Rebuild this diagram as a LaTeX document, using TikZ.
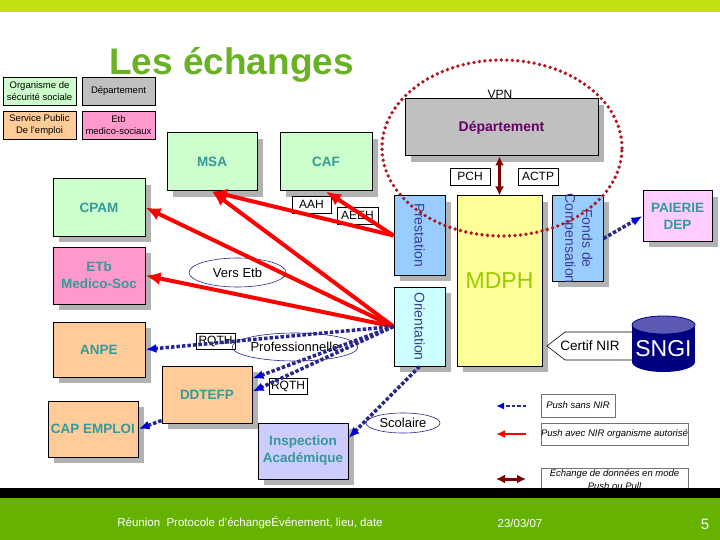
\documentclass[tikz,border=0pt]{standalone}
\usepackage{fontspec}
\setmainfont{Liberation Sans}
\usetikzlibrary{shadows,arrows.meta,shapes.geometric}
\definecolor{topbar}{RGB}{196,224,20}
\definecolor{titlegreen}{RGB}{104,178,36}
\definecolor{footgreen}{RGB}{102,178,0}
\definecolor{secu}{RGB}{204,255,204}
\definecolor{depgrey}{RGB}{192,192,192}
\definecolor{emploi}{RGB}{255,204,153}
\definecolor{etbpink}{RGB}{255,153,204}
\definecolor{presta}{RGB}{153,204,255}
\definecolor{orient}{RGB}{204,255,255}
\definecolor{mdph}{RGB}{255,255,153}
\definecolor{paierie}{RGB}{255,204,255}
\definecolor{inspec}{RGB}{204,204,255}
\definecolor{labteal}{RGB}{51,153,153}
\definecolor{navytext}{RGB}{60,60,150}
\definecolor{deppurple}{RGB}{102,0,102}
\definecolor{mdphgreen}{RGB}{153,204,0}
\definecolor{shade}{RGB}{178,178,178}
\definecolor{arrowred}{RGB}{255,0,0}
\definecolor{navydot}{RGB}{40,40,140}
\definecolor{arrowblue}{RGB}{0,0,220}
\definecolor{pullred}{RGB}{128,0,0}
\definecolor{ringred}{RGB}{175,25,35}
\definecolor{sngiblue}{RGB}{0,0,128}
\definecolor{sngitop}{RGB}{90,90,180}
\newcommand\fsz[2]{\fontsize{#1}{#2}\selectfont}
\begin{document}
\begin{tikzpicture}[x=1pt,y=-1pt,
  org/.style={draw, line width=1pt, align=center, inner sep=1pt, text=labteal,
    font=\bfseries\fsz{13.5}{17},
    general shadow={fill=shade, shadow xshift=6pt, shadow yshift=-6pt}},
  legbox/.style={draw, line width=0.8pt, align=center, inner sep=0pt, font=\fsz{9.5}{12}},
  tag/.style={draw, fill=white, line width=0.6pt, inner sep=0pt, font=\fsz{12}{14}},
  oval/.style={ellipse, draw=navydot, line width=0.6pt, inner sep=0pt, font=\fsz{13}{15}},
  vtext/.style={rotate=-90, text=navytext, align=center, font=\fsz{14}{16}},
  note/.style={draw=black!55, line width=0.8pt, align=center, inner sep=0pt,
    font=\itshape\fsz{9.5}{13}},
  pushred/.style={draw=arrowred, line width=4pt, -{Latex[length=15pt,width=13pt]}},
  pushblue/.style={draw=navydot, line width=3.5pt, dash pattern=on 3.5pt off 2pt,
    -{Latex[length=11pt,width=9pt,color=arrowblue]}},
  pull/.style={draw=pullred, line width=3pt,
    {Latex[length=9pt,width=9pt]}-{Latex[length=9pt,width=9pt]}}]
\useasboundingbox (0,0) rectangle (720,540);
\fill[white] (0,0) rectangle (720,540);
\fill[topbar] (0,0) rectangle (720,12);
\node[anchor=base, text=titlegreen, font=\bfseries\fsz{37}{40}] (title) at (231.5,75) {Les échanges};
\node[legbox, fill=secu, minimum width=73, minimum height=28] (lsecu) at (39.5,91) {Organisme de\\sécurité sociale};
\node[legbox, fill=depgrey, minimum width=73, minimum height=28] (ldep) at (118.5,91) {Département};
\node[legbox, fill=emploi, minimum width=73, minimum height=28] (lemploi) at (39.5,125) {Service Public\\De l'emploi};
\node[legbox, fill=etbpink, minimum width=73, minimum height=28] (letb) at (118.5,125) {Etb\\medico-sociaux};
\node[font=\fsz{12}{14}] (vpn) at (500,94) {VPN};
\node[org, fill=depgrey, text=deppurple, font=\bfseries\fsz{14}{16}, minimum width=193, minimum height=57] (dep) at (501.5,127.5) {Département};
\node[org, fill=secu, minimum width=90, minimum height=58] (msa) at (212,162) {MSA};
\node[org, fill=secu, minimum width=92, minimum height=58] (caf) at (326,162) {CAF};
\node[org, fill=secu, minimum width=92, minimum height=57] (cpam) at (99,207.5) {CPAM};
\node[org, fill=etbpink, minimum width=92, minimum height=57] (etb) at (99,275.5) {ETb\\Medico-Soc};
\node[org, fill=emploi, minimum width=92, minimum height=55] (anpe) at (99,349.5) {ANPE};
\node[org, fill=emploi, minimum width=90, minimum height=57] (ddtefp) at (207,394.5) {DDTEFP};
\node[org, fill=emploi, minimum width=90, minimum height=56] (capemploi) at (93,429) {CAP EMPLOI};
\node[org, fill=inspec, minimum width=90, minimum height=56] (inspection) at (303,451) {Inspection\\Académique};
\node[org, fill=presta, minimum width=51, minimum height=79] (presta) at (419.5,235.5) {};
\node[vtext] (prestatext) at (presta) {Prestation};
\node[org, fill=orient, minimum width=51, minimum height=79] (orient) at (419.5,326.5) {};
\node[vtext] (orienttext) at (orient) {Orientation};
\node[org, fill=mdph, text=mdphgreen, font=\fsz{23}{26}, minimum width=85, minimum height=170] (mdph) at (499.5,281) {MDPH};
\node[org, fill=presta, minimum width=51, minimum height=85] (fonds) at (577.5,238.5) {};
\node[vtext, font=\fsz{14}{17}] (fondstext) at (fonds) {Fonds de\\Compensation};
\node[org, fill=paierie, minimum width=69, minimum height=50] (paierie) at (677.5,216) {PAIERIE\\DEP};
\node[tag, minimum width=40, minimum height=17] (pch) at (470,176.5) {PCH};
\node[tag, minimum width=40, minimum height=17] (actp) at (538,176.5) {ACTP};
\node[tag, minimum width=39, minimum height=17] (aah) at (311.5,204.5) {AAH};
\node[tag, minimum width=41, minimum height=17] (aeeh) at (357.5,215.5) {AEEH};
\node[tag, minimum width=39, minimum height=16] (rqtha) at (215.5,341) {RQTH};
\node[tag, minimum width=38, minimum height=16] (rqthb) at (288,386) {RQTH};
\node[oval, minimum width=97, minimum height=29] (versetb) at (237.5,272.5) {Vers Etb};
\node[oval, minimum width=96, minimum height=28] (pro) at (295,347) {Professionnelle};
\node[oval, fill=white, minimum width=74, minimum height=20] (scolaire) at (403,423) {Scolaire};
\draw[pushred] (presta.west) -- (msa.south);
\draw[pushred] (presta.west) -- (caf.south);
\draw[pushred] (orient.west) -- (msa.south);
\draw[pushred] (orient.west) -- (cpam.east);
\draw[pushred] (orient.west) -- (etb.east);
\draw[pushblue] (orient.west) -- (anpe.east);
\draw[pushblue] (orient.west) -- ([yshift=16pt]ddtefp.east);
\draw[pushblue] (orient.west) -- ([yshift=3pt]ddtefp.east);
\draw[pushblue] ([yshift=3pt]ddtefp.south west) -- (capemploi.east);
\draw[pushblue] (orient.south) -- ([yshift=13pt]inspection.east);
\draw[pushblue] (fonds.east) -- (paierie.west);
\draw[pull] (mdph.north) -- (mdph.north |- dep.south);
\draw[ringred, line width=3.8pt, dash pattern=on 0pt off 5.5pt, line cap=round]
  (502,148) ellipse [x radius=120pt, y radius=88pt];
\draw[line width=0.6pt, fill=white] (547,346) -- (565,332) -- (645,332) -- (645,360) -- (565,360) -- cycle;
\node[font=\fsz{13.5}{15}] (certif) at (590,346) {Certif NIR};
\fill[sngiblue] (632,325) rectangle (695,362);
\fill[sngiblue] (663.5,362) ellipse [x radius=31.5pt, y radius=10pt];
\filldraw[fill=sngitop, draw=sngiblue, line width=0.8pt] (663.5,325) ellipse [x radius=31.5pt, y radius=9pt];
\node[text=white, font=\fsz{23}{25}] (sngi) at (663.5,349) {SNGI};
\coordinate (lb1) at (496,406);
\coordinate (lb2) at (526,406);
\coordinate (lr1) at (496,434);
\coordinate (lr2) at (526,434);
\coordinate (ld1) at (496,479);
\coordinate (ld2) at (526,479);
\draw[pushblue, line width=2.5pt, -{Latex[length=8pt,width=7pt,color=arrowblue]}] (lb2) -- (lb1);
\draw[pushred, line width=2.5pt, -{Latex[length=9pt,width=8pt]}] (lr2) -- (lr1);
\draw[pull] (ld1) -- (ld2);
\node[note, minimum width=74, minimum height=23] (nsans) at (578,405.5) {Push sans NIR};
\node[note, minimum width=147, minimum height=22] (navec) at (614.5,434) {Push avec NIR organisme autorisé};
\node[note, minimum width=147, minimum height=23] (nech) at (614.5,479.5) {Echange de données en mode\\Push ou Pull};
\fill[black] (0,488) rectangle (720,498);
\fill[footgreen] (0,498) rectangle (720,540);
\node[text=white, font=\fsz{11.5}{13}] (fleft) at (250,523) {Réunion\ \ Protocole d'échangeÉvénement, lieu, date};
\node[text=white, font=\fsz{11.5}{13}] (fdate) at (520,523) {23/03/07};
\node[text=white, font=\fsz{15}{17}] (fpage) at (705,524) {5};
\end{tikzpicture}
\end{document}
